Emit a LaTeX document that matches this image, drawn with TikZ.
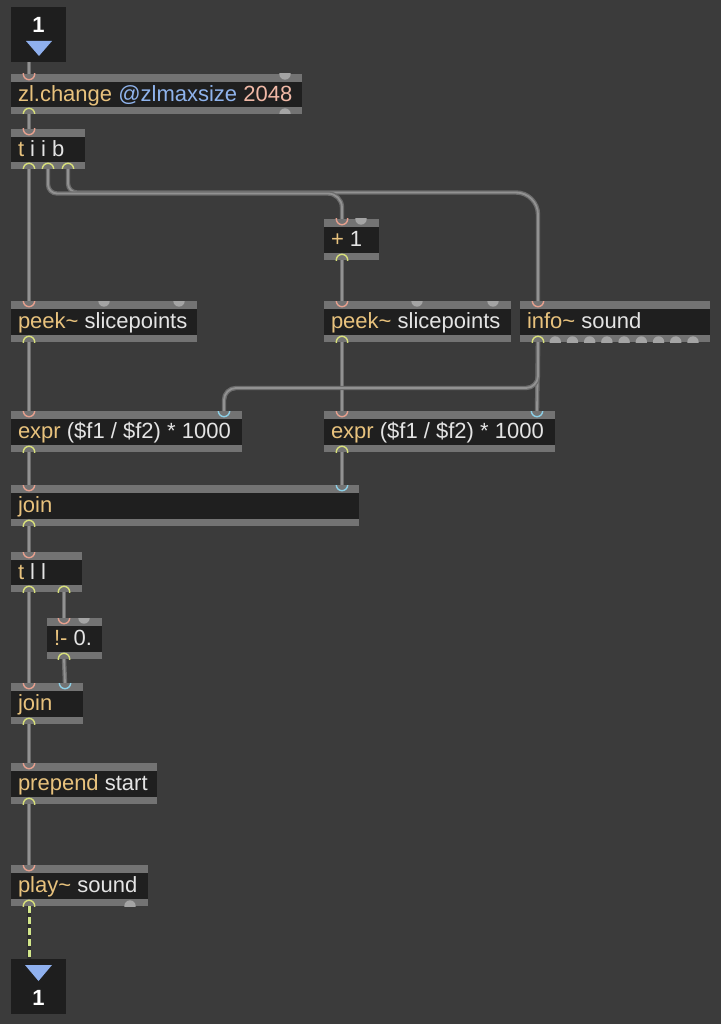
\documentclass[tikz,border=0pt]{standalone}
\usepackage{fontspec}
\setmainfont{Liberation Sans}
\usetikzlibrary{calc}
\definecolor{bg}{HTML}{3B3B3B}
\definecolor{barc}{HTML}{737373}
\definecolor{bodyc}{HTML}{1F1F1F}
\definecolor{boxc}{HTML}{1E1E1E}
\definecolor{clsc}{HTML}{E8C27D}
\definecolor{argc}{HTML}{E4E4E4}
\definecolor{attrc}{HTML}{8FB3EC}
\definecolor{numc}{HTML}{F0B8A6}
\definecolor{pinkc}{HTML}{E6A08E}
\definecolor{yelc}{HTML}{D8E07A}
\definecolor{cyanc}{HTML}{8CCFE6}
\definecolor{freec}{HTML}{A4A4A4}
\definecolor{cordo}{HTML}{6C6C6C}
\definecolor{cordi}{HTML}{929292}
\definecolor{trib}{HTML}{8FB0EE}
\definecolor{sigc}{HTML}{D2E68A}
\definecolor{sigd}{HTML}{2E2E2E}
\tikzset{
  mbar/.style={fill=barc, draw=none, inner sep=0pt, outer sep=0pt},
  mbody/.style={fill=bodyc},
  mtext/.style={inner sep=0pt, outer sep=0pt, text=argc, font=\fontsize{22}{24}\selectfont},
  iobox/.style={fill=boxc, draw=none, inner sep=0pt, outer sep=0pt, minimum width=55pt, minimum height=55pt},
  pinl/.style={draw=pinkc, line width=1.4pt},
  poutl/.style={draw=yelc, line width=1.4pt},
  pcold/.style={draw=cyanc, line width=1.4pt},
  pfree/.style={fill=freec},
  cord/.style={draw=cordo, line width=1.3pt, double=cordi, double distance=1.8pt, line cap=butt},
  sigbase/.style={draw=sigd, line width=4.4pt},
}
\newcommand\mobj[6]{%
  \node[mbar, minimum width=#4pt, minimum height=#5pt, anchor=north west] (#1) at (#2,#3) {};
  \fill[mbody] ($(#1.north west)+(0,8)$) rectangle ($(#1.south east)+(0,-7)$);
  \node[mtext, anchor=base west] (#1-t) at ($(#1.north west)+(7,27.8)$) {#6};
}
\newcommand\pI[3]{\path[#3] ($(#1.north west)+(#2,0)$) circle[radius=5.7pt];}
\newcommand\pO[3]{\path[#3] ($(#1.south west)+(#2,0)$) circle[radius=5.7pt];}
\newcommand\cls[1]{\textcolor{clsc}{#1}}
\begin{document}
\begin{tikzpicture}[x=1pt,y=-1pt]
\fill[bg] (0,0) rectangle (721,1024);
\useasboundingbox (0,0) rectangle (721,1024);

% inlet / outlet boxes
\node[iobox, anchor=north west] (inbox) at (11,7) {};
\node[text=white, font=\bfseries\fontsize{22}{24}\selectfont, inner sep=0pt] (inbox-n) at (38.5,25) {1};
\fill[trib] (26,41) -- (52,41) -- (39,56) -- cycle;
\node[iobox, anchor=north west] (outbox) at (11,959) {};
\fill[trib] (25,965) -- (52,965) -- (38.5,981) -- cycle;
\node[text=white, font=\bfseries\fontsize{22}{24}\selectfont, inner sep=0pt] (outbox-n) at (38.5,998) {1};

% objects
\mobj{zl}{11}{74}{291}{40}{\cls{zl.change} \textcolor{attrc}{@zlmaxsize} \textcolor{numc}{2048}}
\mobj{tiib}{11}{129}{74}{40}{\cls{t} i i b}
\mobj{plus}{324}{219}{55}{41}{\cls{+} 1}
\mobj{peekL}{11}{301}{186}{41}{\cls{peek\char`\~} slicepoints}
\mobj{peekR}{324}{301}{187}{41}{\cls{peek\char`\~} slicepoints}
\mobj{info}{520}{301}{190}{41}{\cls{info\char`\~} sound}
\mobj{exprL}{11}{411}{231}{41}{\cls{expr} (\$f1 / \$f2) * 1000}
\mobj{exprR}{324}{411}{231}{41}{\cls{expr} (\$f1 / \$f2) * 1000}
\mobj{join1}{11}{485}{348}{41}{\cls{join}}
\mobj{tll}{11}{552}{71}{40}{\cls{t} l l}
\mobj{neq}{47}{618}{55}{41}{\cls{!-} 0.}
\mobj{join2}{11}{683}{72}{41}{\cls{join}}
\mobj{prepend}{11}{763}{146}{41}{\cls{prepend} start}
\mobj{play}{11}{865}{137}{41}{\cls{play\char`\~} sound}

% port coordinates
\coordinate (inbox-o) at ($(inbox.south west)+(18,0)$);
\coordinate (outbox-i) at ($(outbox.north west)+(18,0)$);
\foreach \n in {zl,tiib,plus,peekL,peekR,info,exprL,exprR,join1,tll,join2,prepend,play}{
  \coordinate (\n-i0) at ($(\n.north west)+(18,0)$);
  \coordinate (\n-o0) at ($(\n.south west)+(18,0)$);
}
\coordinate (neq-i0) at ($(neq.north west)+(17,0)$);
\coordinate (neq-o0) at ($(neq.south west)+(17,0)$);
\coordinate (tiib-o1) at ($(tiib.south west)+(37,0)$);
\coordinate (tiib-o2) at ($(tiib.south west)+(57,0)$);
\coordinate (exprL-i1) at ($(exprL.north west)+(213,0)$);
\coordinate (exprR-i1) at ($(exprR.north west)+(213,0)$);
\coordinate (join1-i1) at ($(join1.north west)+(331,0)$);
\coordinate (tll-o1) at ($(tll.south west)+(53,0)$);
\coordinate (join2-i1) at ($(join2.north west)+(54,0)$);

% cords
\draw[cord] (inbox-o) -- (zl-i0);
\draw[cord] (zl-o0) -- (tiib-i0);
\draw[cord] (tiib-o0) -- (peekL-i0);
\draw[cord] (tiib-o2) [rounded corners=9pt] -- ($(tiib-o2)+(0,23.5)$) [rounded corners=22pt] -| (info-i0);
\draw[cord] (tiib-o1) [rounded corners=9pt] -- ($(tiib-o1)+(0,24.5)$) [rounded corners=14pt] -| (plus-i0);
\draw[cord] (plus-o0) -- (peekR-i0);
\draw[cord] (peekL-o0) -- (exprL-i0);
\draw[cord] (peekR-o0) -- (exprR-i0);
\draw[cord] (info-o0) -- (exprR-i1);
\draw[cord, rounded corners=12pt] (info-o0) -- ($(info-o0)+(0,46)$) -| (exprL-i1);
\draw[cord] (exprL-o0) -- (join1-i0);
\draw[cord] (exprR-o0) -- (join1-i1);
\draw[cord] (join1-o0) -- (tll-i0);
\draw[cord] (tll-o0) -- (join2-i0);
\draw[cord] (tll-o1) -- (neq-i0);
\draw[cord] (neq-o0) -- (join2-i1);
\draw[cord] (join2-o0) -- (prepend-i0);
\draw[cord] (prepend-o0) -- (play-i0);
\draw[sigbase] (play-o0) -- (outbox-i);
\draw[draw=sigc, line width=3pt, dash pattern=on 7pt off 4pt] (play-o0) -- (outbox-i);

% ports
\begin{scope}\clip (zl.north west) rectangle (zl.south east);
  \pI{zl}{18}{pinl}\pI{zl}{274}{pfree}\pO{zl}{18}{poutl}\pO{zl}{274}{pfree}\end{scope}
\begin{scope}\clip (tiib.north west) rectangle (tiib.south east);
  \pI{tiib}{18}{pinl}\pO{tiib}{18}{poutl}\pO{tiib}{37}{poutl}\pO{tiib}{57}{poutl}\end{scope}
\begin{scope}\clip (plus.north west) rectangle (plus.south east);
  \pI{plus}{18}{pinl}\pI{plus}{37}{pfree}\pO{plus}{18}{poutl}\end{scope}
\begin{scope}\clip (peekL.north west) rectangle (peekL.south east);
  \pI{peekL}{18}{pinl}\pI{peekL}{93}{pfree}\pI{peekL}{168}{pfree}\pO{peekL}{18}{poutl}\end{scope}
\begin{scope}\clip (peekR.north west) rectangle (peekR.south east);
  \pI{peekR}{18}{pinl}\pI{peekR}{93}{pfree}\pI{peekR}{169}{pfree}\pO{peekR}{18}{poutl}\end{scope}
\begin{scope}\clip (info.north west) rectangle (info.south east);
  \pI{info}{18}{pinl}\pO{info}{18}{poutl}
  \foreach \k in {1,...,9}{\pO{info}{18+17.22*\k}{pfree}}\end{scope}
\begin{scope}\clip (exprL.north west) rectangle (exprL.south east);
  \pI{exprL}{18}{pinl}\pI{exprL}{213}{pcold}\pO{exprL}{18}{poutl}\end{scope}
\begin{scope}\clip (exprR.north west) rectangle (exprR.south east);
  \pI{exprR}{18}{pinl}\pI{exprR}{213}{pcold}\pO{exprR}{18}{poutl}\end{scope}
\begin{scope}\clip (join1.north west) rectangle (join1.south east);
  \pI{join1}{18}{pinl}\pI{join1}{331}{pcold}\pO{join1}{18}{poutl}\end{scope}
\begin{scope}\clip (tll.north west) rectangle (tll.south east);
  \pI{tll}{18}{pinl}\pO{tll}{18}{poutl}\pO{tll}{53}{poutl}\end{scope}
\begin{scope}\clip (neq.north west) rectangle (neq.south east);
  \pI{neq}{17}{pinl}\pI{neq}{37}{pfree}\pO{neq}{17}{poutl}\end{scope}
\begin{scope}\clip (join2.north west) rectangle (join2.south east);
  \pI{join2}{18}{pinl}\pI{join2}{54}{pcold}\pO{join2}{18}{poutl}\end{scope}
\begin{scope}\clip (prepend.north west) rectangle (prepend.south east);
  \pI{prepend}{18}{pinl}\pO{prepend}{18}{poutl}\end{scope}
\begin{scope}\clip (play.north west) rectangle (play.south east);
  \pI{play}{18}{pinl}\pO{play}{18}{poutl}\pO{play}{119}{pfree}\end{scope}
\end{tikzpicture}
\end{document}
